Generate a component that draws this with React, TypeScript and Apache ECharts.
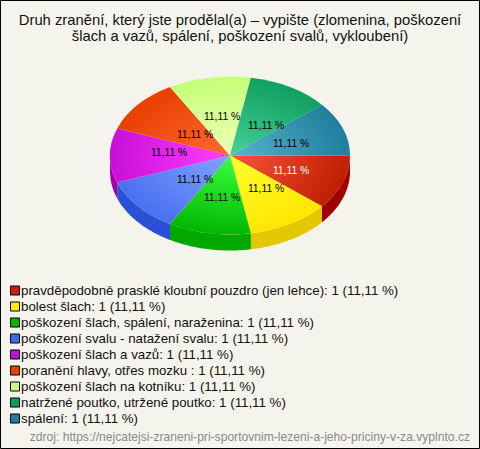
import React, { useEffect, useRef } from "react";
import * as echarts from "echarts";

const categories = [
  "pravděpodobně prasklé kloubní pouzdro (jen lehce)",
  "bolest šlach",
  "poškození šlach, spálení, naraženina",
  "poškození svalu - natažení svalu",
  "poškození šlach a vazů",
  "poranění hlavy, otřes mozku ",
  "poškození šlach na kotníku",
  "natržené poutko, utržené poutko",
  "spálení",
];
const values = [1, 1, 1, 1, 1, 1, 1, 1, 1];
const percents = ["11,11 %", "11,11 %", "11,11 %", "11,11 %", "11,11 %", "11,11 %", "11,11 %", "11,11 %", "11,11 %"];
const legendColors = ["#c82000", "#ffee00", "#00b400", "#3a6cf0", "#c010d0", "#e84000", "#c8ff80", "#0f9a60", "#1f7f9f"];
const rimColors = ["#c01f00", "#ffe600", "#00b800", "#4a70f0", "#c810d8", "#e84000", "#c4ff78", "#10a060", "#1f7f9c"];
const centerColors = ["#f8553a", "#ffff30", "#3cff40", "#80a4ff", "#ff40ff", "#ff6a30", "#f0ffb8", "#48d098", "#58b4cc"];
const wallColors = ["#a00000", "#e2c800", "#00a800", "#2a50d8", "#a800a8", "#a00000", "#a0d060", "#0a7a48", "#155f78"];
const labelColors = ["#ffffff", "#000", "#000", "#000", "#000", "#000", "#000", "#000", "#000"];
const labelOffsets = [[61, 15], [36, 33], [-8, 42], [-35, 24], [-61, -3], [-35, -21], [-8, -39], [36, -30], [61, -12]];

const CX = 230, CY = 155.5, RX = 120, RY = 79, DEPTH = 16;
const total = values.reduce((a, b) => a + b, 0);

function sliceAngles(i: number) {
  const before = values.slice(0, i).reduce((a, b) => a + b, 0);
  return [(before / total) * Math.PI * 2, ((before + values[i]) / total) * Math.PI * 2];
}

function wallPoints(a0: number, a1: number) {
  const from = Math.max(a0, 0), to = Math.min(a1, Math.PI);
  if (to <= from) return null;
  const top: number[][] = [], bottom: number[][] = [];
  const n = 40;
  for (let k = 0; k <= n; k++) {
    const a = from + ((to - from) * k) / n;
    const x = CX + RX * Math.cos(a), y = CY + RY * Math.sin(a);
    top.push([x, y]);
    bottom.unshift([x, y + DEPTH]);
  }
  return top.concat(bottom);
}

export default function App() {
  const ref = useRef<HTMLDivElement>(null);
  useEffect(() => {
    document.body.style.margin = "0";
    const chart = echarts.init(ref.current!, null, { renderer: "svg" });
    const series: any[] = categories.map((name, i) => ({
      type: "custom",
      name,
      coordinateSystem: "none",
      silent: true,
      itemStyle: { color: legendColors[i] },
      data: [values[i]],
      z: 2,
      renderItem: () => {
        const [a0, a1] = sliceAngles(i);
        const pts = wallPoints(a0, a1);
        const children: any[] = [];
        if (pts) children.push({ type: "polygon", shape: { points: pts }, style: { fill: wallColors[i] } });
        children.push({
          type: "group",
          x: CX,
          y: CY,
          scaleY: RY / RX,
          children: [{
            type: "sector",
            shape: { cx: 0, cy: 0, r0: 0, r: RX, startAngle: a0, endAngle: a1, clockwise: true },
            style: {
              fill: {
                type: "radial", x: 0, y: 0, r: RX, global: true,
                colorStops: [{ offset: 0, color: centerColors[i] }, { offset: 1, color: rimColors[i] }],
              },
            },
          }],
        });
        return { type: "group", children };
      },
    }));
    series.push({
      type: "custom",
      coordinateSystem: "none",
      silent: true,
      z: 5,
      data: values,
      renderItem: (p: any) => {
        const i = p.dataIndex;
        return {
          type: "text",
          x: CX + labelOffsets[i][0],
          y: CY + labelOffsets[i][1],
          style: {
            text: percents[i],
            fill: labelColors[i],
            font: "10.3px 'Liberation Sans'",
            align: "center",
            verticalAlign: "middle",
          },
        };
      },
    });
    chart.setOption({
      animation: false,
      backgroundColor: "#f5f4ec",
      title: {
        text: "Druh zranění, který jste prodělal(a) – vypište (zlomenina, poškození\nšlach a vazů, spálení, poškození svalů, vykloubení)",
        left: 235,
        top: 7,
        textAlign: "center",
        textStyle: { fontFamily: "Liberation Sans", fontSize: 14.8, fontWeight: "normal", color: "#111", lineHeight: 16 },
      },
      legend: {
        orient: "vertical",
        left: 5,
        top: 279,
        itemWidth: 9,
        itemHeight: 9,
        itemGap: 3,
        icon: "rect",
        selectedMode: false,
        data: categories.map((name, i) => ({
          name,
          itemStyle: { color: legendColors[i], borderColor: "#000", borderWidth: 1 },
        })),
        formatter: (name: string) => `${name}: ${values[categories.indexOf(name)]} (${percents[categories.indexOf(name)]})`,
        textStyle: { fontFamily: "Liberation Sans", fontSize: 13.3, color: "#111", padding: [0, 0, 0, -3.5], lineHeight: 13 },
      },
      graphic: [
        {
          type: "text",
          right: 10,
          top: 431,
          style: { text: "zdroj: https://nejcatejsi-zraneni-pri-sportovnim-lezeni-a-jeho-priciny-v-za.vyplnto.cz", fill: "#8a8a8a", font: "12.1px 'Liberation Sans'" },
        },
        {
          type: "rect",
          shape: { x: 0.5, y: 0.5, width: 479, height: 448 },
          style: { fill: "none", stroke: "#000", lineWidth: 1 },
          silent: true,
        },
      ],
      series,
    });
    return () => chart.dispose();
  }, []);
  return <div ref={ref} style={{ position: "absolute", left: 0, top: 0, width: 480, height: 449 }} />;
}
